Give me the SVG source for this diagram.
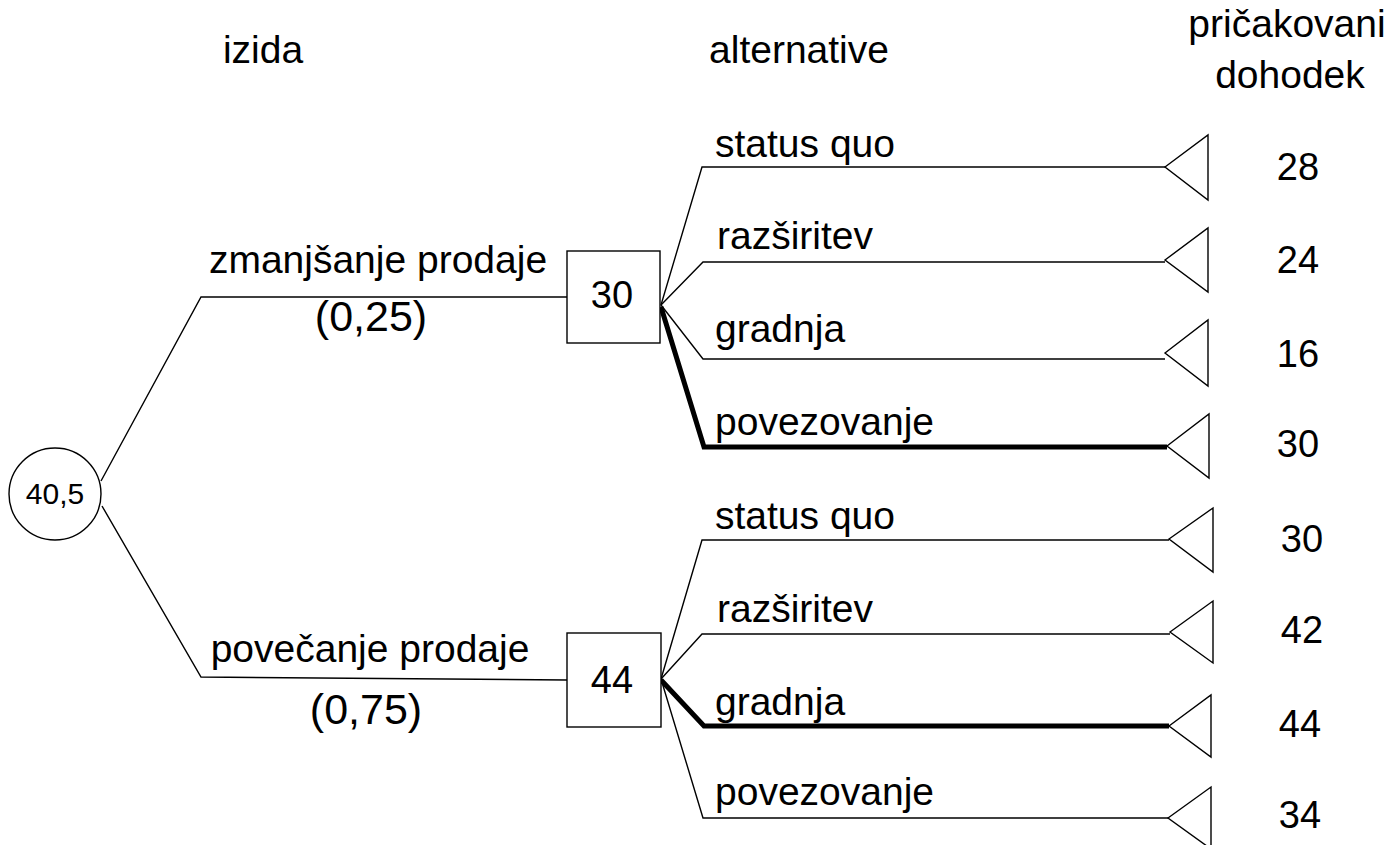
<svg xmlns="http://www.w3.org/2000/svg" width="1391" height="845" viewBox="0 0 1391 845">
  <style>
    .ln { fill: none; stroke: #000; stroke-width: 1.4; stroke-linejoin: miter; }
    .best { fill: none; stroke: #000; stroke-width: 5; stroke-linejoin: miter; }
    .shape { fill: #fff; stroke: #000; stroke-width: 1.4; }
    text { font-family: "Liberation Sans", Arial, sans-serif; fill: #000; }
    .lbl { font-size: 39px; }
    .prob { font-size: 43px; text-anchor: middle; }
    .val { font-size: 38px; text-anchor: middle; }
    .hdr { font-size: 39px; text-anchor: middle; }
  </style>

  <!-- column headings -->
  <g id="headings">
    <text class="hdr" x="263" y="63">izida</text>
    <text class="hdr" x="799" y="63">alternative</text>
    <text class="hdr" x="1287" y="37">pričakovani</text>
    <text class="hdr" x="1290" y="88">dohodek</text>
  </g>

  <!-- branches -->
  <g id="connectors">
    <!-- chance node outcomes -->
    <polyline class="ln" points="101,481 201,297 567,297"/>
    <polyline class="ln" points="102,506 201,677 567,680"/>
    <!-- alternatives after decrease -->
    <polyline class="ln" points="661,305 702,167 1165,167"/>
    <polyline class="ln" points="661,305 703,262 1165,262"/>
    <polyline class="ln" points="661,305 703,359 1165,359"/>
    <polyline class="best" points="661,307 704,447 1167,447"/>
    <!-- alternatives after increase -->
    <polyline class="ln" points="661,679 702,540 1169,540"/>
    <polyline class="ln" points="661,679 702,634 1170,634"/>
    <polyline class="best" points="661,680 704,726 1169,726"/>
    <polyline class="ln" points="661,679 703,818 1168,818"/>
  </g>

  <!-- branch labels -->
  <g id="labels">
    <text class="lbl" x="378" y="273" text-anchor="middle">zmanjšanje prodaje</text>
    <text class="prob" x="371" y="331">(0,25)</text>
    <text class="lbl" x="370" y="662" text-anchor="middle">povečanje prodaje</text>
    <text class="prob" x="366" y="724">(0,75)</text>

    <text class="lbl" x="715" y="157">status quo</text>
    <text class="lbl" x="717" y="249">razširitev</text>
    <text class="lbl" x="715" y="342">gradnja</text>
    <text class="lbl" x="715" y="435">povezovanje</text>

    <text class="lbl" x="715" y="529">status quo</text>
    <text class="lbl" x="717" y="622">razširitev</text>
    <text class="lbl" x="715" y="715">gradnja</text>
    <text class="lbl" x="715" y="805">povezovanje</text>
  </g>

  <!-- chance node -->
  <g id="chance">
    <circle class="shape" cx="55" cy="494" r="46"/>
    <text x="55" y="504" font-size="30" text-anchor="middle">40,5</text>
  </g>

  <!-- decision nodes -->
  <g id="decision-decrease">
    <rect class="shape" x="567" y="251" width="93" height="92"/>
    <text class="val" x="612" y="308" font-size="40">30</text>
  </g>
  <g id="decision-increase">
    <rect class="shape" x="567" y="633" width="94" height="94"/>
    <text class="val" x="612" y="693" font-size="40">44</text>
  </g>

  <!-- terminal nodes with payoffs -->
  <g id="end-1">
    <polygon class="shape" points="1165,167 1208,135 1208,200"/>
    <text class="val" x="1298" y="180">28</text>
  </g>
  <g id="end-2">
    <polygon class="shape" points="1165,260 1208,228 1208,292"/>
    <text class="val" x="1298" y="273">24</text>
  </g>
  <g id="end-3">
    <polygon class="shape" points="1165,353 1208,320 1208,386"/>
    <text class="val" x="1298" y="367">16</text>
  </g>
  <g id="end-4">
    <polygon class="shape" points="1167,446 1209,414 1209,478"/>
    <text class="val" x="1298" y="457">30</text>
  </g>
  <g id="end-5">
    <polygon class="shape" points="1169,539 1213,508 1213,572"/>
    <text class="val" x="1302" y="552">30</text>
  </g>
  <g id="end-6">
    <polygon class="shape" points="1170,632 1213,601 1213,663"/>
    <text class="val" x="1302" y="643">42</text>
  </g>
  <g id="end-7">
    <polygon class="shape" points="1169,726 1211,695 1211,757"/>
    <text class="val" x="1300" y="737">44</text>
  </g>
  <g id="end-8">
    <polygon class="shape" points="1168,818 1211,787 1211,849"/>
    <text class="val" x="1300" y="828">34</text>
  </g>
</svg>
